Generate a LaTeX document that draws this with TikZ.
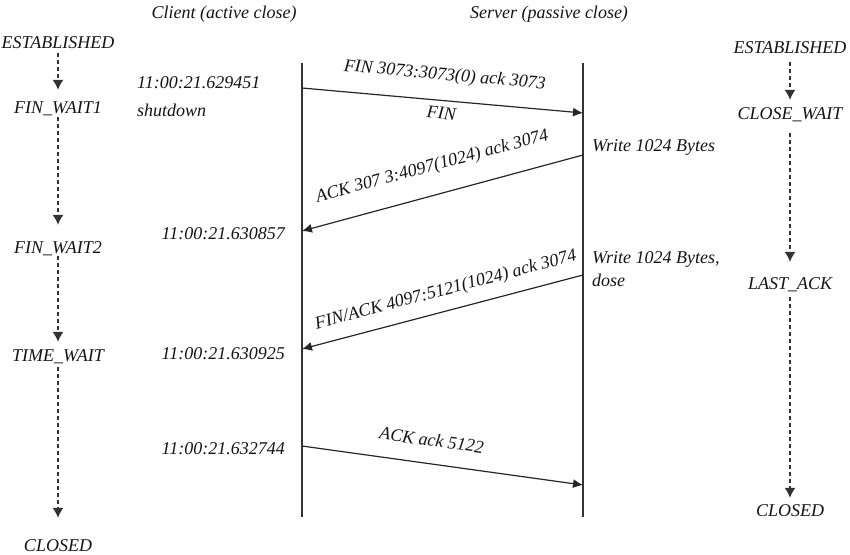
\documentclass[tikz,border=0pt]{standalone}
\usepackage{fontspec}
\setmainfont{Liberation Serif}
\usetikzlibrary{arrows.meta,positioning}
\tikzstyle{txt}=[
	inner sep=0pt,
	text height=12pt,
	text depth=0pt,
	text=black!92]
\tikzstyle{state}=[
	txt]
\tikzstyle{lbl}=[
	txt,
	sloped]
\tikzstyle{lifeline}=[
	draw=black!80,
	line width=1.2pt]
\tikzstyle{msg}=[
	->,
	draw=black!85,
	line width=1.2pt]
\tikzstyle{trans}=[
	-{Latex[length=10pt,width=11pt]},
	draw=black!80,
	dash pattern=on 4pt off 3pt,
	line width=1.1pt]

\begin{document}
\begin{tikzpicture}[x=1pt,y=-1pt,>={Latex[length=10pt,width=9pt]},font=\itshape\fontsize{18}{22}\selectfont]
	\useasboundingbox (0,0) rectangle (850,554);
	% titles
	\node[txt] (client) at (224,12) {Client (active close)};
	\node[txt] (server) at (549,12) {Server (passive close)};
	% lifelines
	\coordinate (ctop) at (302,63);
	\coordinate (cbot) at (302,517);
	\coordinate (stop) at (583,63);
	\coordinate (sbot) at (583,517);
	\draw[lifeline] (ctop) -- (cbot);
	\draw[lifeline] (stop) -- (sbot);
	% client states
	\node[state] (est1) at (58,42) {ESTABLISHED};
	\node[state] (fw1) at (58,107) {FIN\_WAIT1};
	\node[state] (fw2) at (58,247) {FIN\_WAIT2};
	\node[state] (tw) at (58,355) {TIME\_WAIT};
	\node[state] (cl1) at (58,545) {CLOSED};
	\draw[trans,shorten <=5pt,shorten >=11pt] (est1) -- (fw1);
	\draw[trans,shorten <=4pt,shorten >=16pt] (fw1) -- (fw2);
	\draw[trans,shorten <=3pt,shorten >=7pt] (fw2) -- (tw);
	\draw[trans,shorten <=6pt,shorten >=21pt] (tw) -- (cl1);
	% server states
	\node[state] (est2) at (790,47) {ESTABLISHED};
	\node[state] (cw) at (790,113) {CLOSE\_WAIT};
	\node[state] (la) at (790,283) {LAST\_ACK};
	\node[state] (cl2) at (790,510) {CLOSED};
	\draw[trans,shorten <=9pt,shorten >=7pt] (est2) -- (cw);
	\draw[trans,shorten <=14pt,shorten >=15pt] (cw) -- (la);
	\draw[trans,shorten <=8pt,shorten >=6pt] (la) -- (cl2);
	% timestamps and notes
	\node[txt,anchor=west] (t1) at (137,82) {11:00:21.629451};
	\node[txt,below right=16pt and 0pt of t1.south west] (shut) {shutdown};
	\node[txt,anchor=east] (t2) at (285,233) {11:00:21.630857};
	\node[txt,anchor=east] (t3) at (285,353) {11:00:21.630925};
	\node[txt,anchor=east] (t4) at (285,448) {11:00:21.632744};
	\node[txt,anchor=west] (w1) at (592,145) {Write 1024 Bytes};
	\node[txt,anchor=west] (w2) at (592,257) {Write 1024 Bytes,};
	\node[txt,below right=11pt and 0pt of w2.south west] (dose) {dose};
	% segments
	\coordinate (m1a) at (302,88);
	\coordinate (m1b) at (583,113);
	\coordinate (m2a) at (583,155);
	\coordinate (m2b) at (302,231);
	\coordinate (m3a) at (583,275);
	\coordinate (m3b) at (302,349);
	\coordinate (m4a) at (302,446);
	\coordinate (m4b) at (583,485);
	\draw[msg] (m1a) -- node[lbl,above=20pt] (l1) {FIN 3073:3073(0) ack 3073}
		node[lbl,below=6pt] (l1b) {FIN} (m1b);
	\draw[msg] (m2a) -- node[lbl,pos=.51,above=23pt] (l2) {ACK 307 3:4097(1024) ack 3074} (m2b);
	\draw[msg] (m3a) -- node[lbl,pos=.47,above=15pt] (l3) {FIN/ACK 4097:5121(1024) ack 3074} (m3b);
	\draw[msg] (m4a) -- node[lbl,pos=.45,above=17pt] (l4) {ACK ack 5122} (m4b);
\end{tikzpicture}
\end{document}
